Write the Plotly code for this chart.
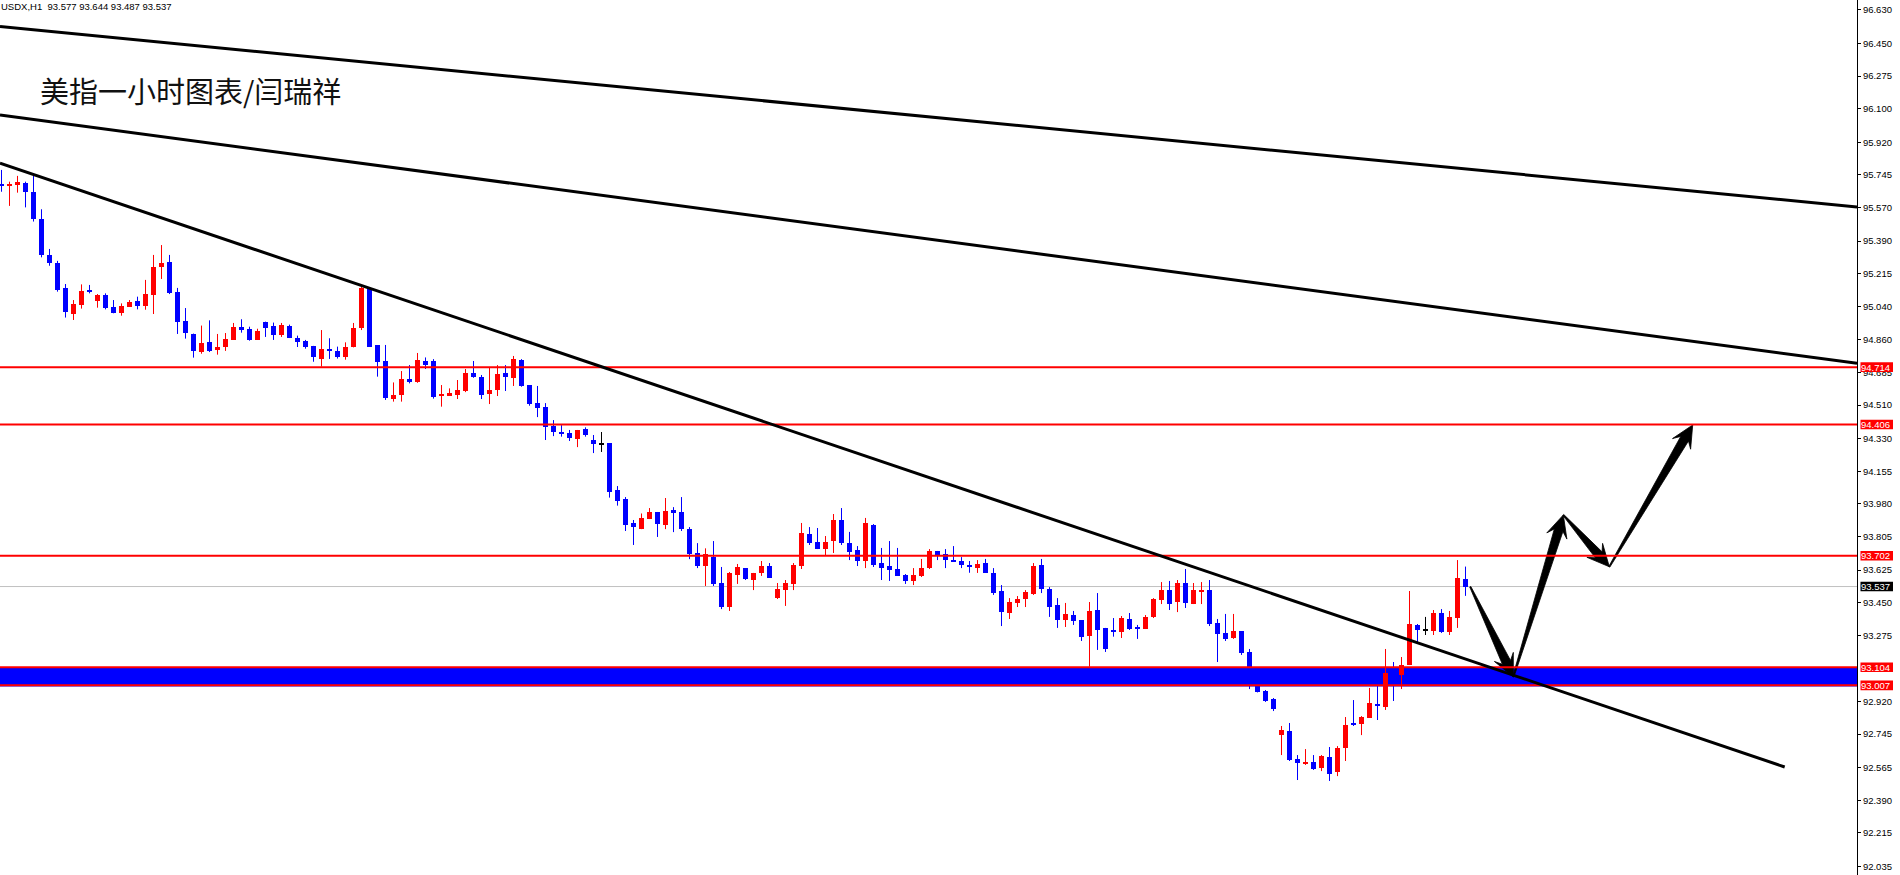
import math
import plotly.graph_objects as go

# ---------------- data ----------------
opens = [95.691, 95.686, 95.689, 95.702, 95.654, 95.509, 95.316, 95.273, 95.139, 95.001,
         95.047, 95.128, 95.071, 95.101, 95.037, 95.006, 95.039, 95.069, 95.044, 95.103,
         95.253, 95.276, 95.117, 94.962, 94.894, 94.797, 94.849, 94.808, 94.824, 94.861,
         94.929, 94.917, 94.860, 94.956, 94.935, 94.886, 94.935, 94.870, 94.853, 94.828,
         94.760, 94.806, 94.801, 94.770, 94.824, 94.922, 95.131, 94.831, 94.747, 94.545,
         94.566, 94.650, 94.634, 94.747, 94.747, 94.561, 94.561, 94.564, 94.586, 94.682,
         94.661, 94.571, 94.591, 94.682, 94.657, 94.752, 94.618, 94.521, 94.500, 94.396,
         94.368, 94.360, 94.330, 94.380, 94.323, 94.300, 94.307, 94.055, 94.006, 93.878,
         93.845, 93.899, 93.937, 93.867, 93.947, 93.937, 93.845, 93.717, 93.647, 93.697,
         93.556, 93.427, 93.599, 93.636, 93.574, 93.610, 93.647, 93.475, 93.518, 93.551,
         93.647, 93.819, 93.776, 93.738, 93.781, 93.894, 93.771, 93.733, 93.674, 93.867,
         93.663, 93.647, 93.631, 93.599, 93.567, 93.594, 93.636, 93.728, 93.712, 93.679,
         93.674, 93.653, 93.636, 93.663, 93.610, 93.513, 93.395, 93.449, 93.470, 93.495,
         93.653, 93.524, 93.438, 93.357, 93.384, 93.357, 93.272, 93.411, 93.315, 93.304,
         93.293, 93.363, 93.315, 93.309, 93.374, 93.465, 93.518, 93.454, 93.556, 93.443,
         93.509, 93.518, 93.341, 93.288, 93.261, 93.298, 93.186, 93.020, 92.977, 92.934,
         92.740, 92.762, 92.612, 92.585, 92.596, 92.563, 92.622, 92.542, 92.671, 92.805,
         92.800, 92.832, 92.907, 92.891, 93.053, 93.062, 93.116, 93.331, 93.304, 93.298,
         93.395, 93.293, 93.368, 93.577]
highs = [95.772, 95.709, 95.740, 95.709, 95.754, 95.561, 95.348, 95.284, 95.160, 95.074,
         95.158, 95.155, 95.106, 95.110, 95.074, 95.056, 95.074, 95.092, 95.182, 95.316,
         95.369, 95.316, 95.139, 95.031, 94.894, 94.937, 94.965, 94.892, 94.897, 94.951,
         94.971, 94.931, 94.920, 94.958, 94.953, 94.951, 94.942, 94.883, 94.860, 94.828,
         94.913, 94.869, 94.824, 94.847, 94.951, 95.146, 95.142, 94.831, 94.833, 94.632,
         94.693, 94.725, 94.790, 94.766, 94.757, 94.618, 94.600, 94.645, 94.704, 94.747,
         94.672, 94.715, 94.725, 94.725, 94.774, 94.757, 94.618, 94.613, 94.521, 94.430,
         94.403, 94.377, 94.377, 94.391, 94.350, 94.366, 94.307, 94.076, 94.017, 93.894,
         93.929, 93.958, 93.937, 94.012, 93.963, 94.017, 93.856, 93.770, 93.742, 93.781,
         93.642, 93.615, 93.658, 93.636, 93.610, 93.674, 93.663, 93.556, 93.572, 93.663,
         93.878, 93.856, 93.851, 93.808, 93.926, 93.958, 93.830, 93.754, 93.905, 93.872,
         93.744, 93.781, 93.744, 93.604, 93.636, 93.685, 93.738, 93.728, 93.738, 93.754,
         93.695, 93.674, 93.679, 93.685, 93.636, 93.545, 93.475, 93.486, 93.518, 93.663,
         93.685, 93.534, 93.475, 93.449, 93.406, 93.357, 93.454, 93.502, 93.315, 93.368,
         93.379, 93.395, 93.331, 93.384, 93.475, 93.561, 93.567, 93.572, 93.631, 93.556,
         93.561, 93.572, 93.363, 93.390, 93.390, 93.298, 93.202, 93.050, 92.982, 92.939,
         92.789, 92.805, 92.633, 92.665, 92.633, 92.633, 92.676, 92.681, 92.837, 92.928,
         92.842, 92.993, 93.009, 93.202, 93.132, 93.159, 93.513, 93.336, 93.374, 93.411,
         93.416, 93.406, 93.679, 93.644]
lows = [95.655, 95.579, 95.650, 95.571, 95.495, 95.303, 95.258, 95.119, 94.980, 94.967,
        95.028, 95.110, 95.033, 95.024, 95.003, 94.990, 95.039, 95.024, 95.022, 94.999,
        95.187, 95.106, 94.892, 94.867, 94.765, 94.786, 94.795, 94.781, 94.801, 94.860,
        94.899, 94.856, 94.860, 94.876, 94.860, 94.876, 94.870, 94.822, 94.813, 94.743,
        94.717, 94.758, 94.760, 94.754, 94.820, 94.913, 94.824, 94.663, 94.538, 94.529,
        94.529, 94.627, 94.630, 94.704, 94.545, 94.502, 94.561, 94.543, 94.580, 94.657,
        94.543, 94.516, 94.559, 94.586, 94.613, 94.609, 94.507, 94.446, 94.323, 94.344,
        94.341, 94.318, 94.285, 94.341, 94.253, 94.259, 94.014, 93.971, 93.835, 93.760,
        93.845, 93.899, 93.803, 93.845, 93.829, 93.835, 93.684, 93.636, 93.540, 93.540,
        93.416, 93.406, 93.551, 93.572, 93.518, 93.594, 93.583, 93.470, 93.433, 93.518,
        93.631, 93.760, 93.738, 93.701, 93.717, 93.760, 93.679, 93.647, 93.636, 93.642,
        93.572, 93.567, 93.594, 93.551, 93.545, 93.588, 93.631, 93.679, 93.636, 93.669,
        93.636, 93.611, 93.610, 93.610, 93.492, 93.325, 93.363, 93.427, 93.427, 93.492,
        93.502, 93.374, 93.315, 93.320, 93.331, 93.245, 93.107, 93.197, 93.186, 93.268,
        93.261, 93.304, 93.256, 93.309, 93.368, 93.443, 93.411, 93.400, 93.422, 93.443,
        93.443, 93.325, 93.132, 93.245, 93.256, 93.170, 92.987, 92.969, 92.918, 92.869,
        92.633, 92.601, 92.499, 92.580, 92.553, 92.547, 92.494, 92.520, 92.601, 92.789,
        92.740, 92.832, 92.821, 92.875, 92.923, 92.987, 93.116, 93.229, 93.277, 93.277,
        93.288, 93.277, 93.315, 93.487]
closes = [95.686, 95.693, 95.707, 95.655, 95.509, 95.316, 95.275, 95.130, 95.010, 95.053,
          95.123, 95.119, 95.101, 95.033, 95.005, 95.042, 95.064, 95.044, 95.106, 95.251,
          95.273, 95.114, 94.956, 94.897, 94.802, 94.844, 94.801, 94.822, 94.865, 94.929,
          94.913, 94.860, 94.908, 94.924, 94.886, 94.940, 94.872, 94.849, 94.822, 94.767,
          94.811, 94.802, 94.770, 94.820, 94.924, 95.139, 94.824, 94.743, 94.547, 94.564,
          94.648, 94.634, 94.752, 94.727, 94.554, 94.570, 94.575, 94.591, 94.682, 94.661,
          94.566, 94.591, 94.677, 94.661, 94.757, 94.614, 94.516, 94.495, 94.394, 94.368,
          94.360, 94.334, 94.377, 94.350, 94.301, 94.300, 94.044, 93.996, 93.867, 93.858,
          93.903, 93.937, 93.872, 93.942, 93.931, 93.845, 93.711, 93.647, 93.712, 93.551,
          93.425, 93.610, 93.642, 93.577, 93.610, 93.647, 93.583, 93.524, 93.556, 93.653,
          93.824, 93.772, 93.738, 93.776, 93.894, 93.771, 93.722, 93.674, 93.878, 93.653,
          93.636, 93.626, 93.594, 93.567, 93.599, 93.636, 93.728, 93.706, 93.679, 93.674,
          93.653, 93.642, 93.658, 93.610, 93.502, 93.400, 93.454, 93.470, 93.508, 93.647,
          93.524, 93.427, 93.357, 93.390, 93.352, 93.266, 93.406, 93.304, 93.202, 93.298,
          93.368, 93.309, 93.311, 93.374, 93.470, 93.518, 93.443, 93.556, 93.449, 93.518,
          93.513, 93.336, 93.282, 93.256, 93.298, 93.180, 93.045, 92.971, 92.923, 92.880,
          92.767, 92.606, 92.590, 92.596, 92.558, 92.628, 92.531, 92.671, 92.794, 92.794,
          92.837, 92.912, 92.901, 93.073, 93.018, 93.116, 93.336, 93.304, 93.304, 93.395,
          93.293, 93.374, 93.583, 93.537]

tick_labels = ["96.630", "96.450", "96.275", "96.100", "95.920", "95.745", "95.570",
               "95.390", "95.215", "95.040", "94.860", "94.685", "94.510", "94.330",
               "94.155", "93.980", "93.805", "93.625", "93.450", "93.275", "92.920",
               "92.745", "92.565", "92.390", "92.215", "92.035"]

header_text = "USDX,H1  93.577 93.644 93.487 93.537"
title_text = "美指一小时图表/闫瑞祥"

red_levels = [94.714, 94.406, 93.702, 93.104, 93.007]
bid_price = 93.537
zone_low, zone_high = 93.007, 93.104

# trend lines: (bar index, price) pairs
trend_lines = [
    [(-0.1875, 96.541), (231.94, 95.573)],
    [(-0.1875, 96.067), (231.94, 94.735)],
    [(-0.1875, 95.808), (222.9, 92.569)],
]
# projected path arrows: waypoints (bar index, price)
arrow_path = [(183.6, 93.536), (188.98, 93.053), (195.23, 93.921),
              (200.98, 93.643), (211.4, 94.404)]

# ---------------- layout geometry ----------------
W, H = 1900, 875
PLOT_W = 1857
SPACING = 8.0
x_range = [-1.5 / SPACING, (PLOT_W - 1.5) / SPACING]
y_range = [91.9895, 96.6836]
kx = SPACING
ky = H / (y_range[1] - y_range[0])

def to_px(i, p):
    return (i - x_range[0]) * kx, (y_range[1] - p) * ky

def to_data(px, py):
    return x_range[0] + px / kx, y_range[1] - py / ky

RED = "#ff0000"
BLUE = "#0000ff"
BLACK = "#000000"
min_body = 1.0 / ky

fig = go.Figure()

groups = {RED: ([], [], []), BLUE: ([], [], []), BLACK: ([], [], [])}
wicks = {RED: ([], []), BLUE: ([], []), BLACK: ([], [])}
for i, (o, h, l, c) in enumerate(zip(opens, highs, lows, closes)):
    col = RED if c > o else (BLUE if c < o else BLACK)
    lo_b, hi_b = min(o, c), max(o, c)
    if hi_b - lo_b < min_body:
        mid = (hi_b + lo_b) / 2
        lo_b, hi_b = mid - min_body / 2, mid + min_body / 2
    xs, bases, hs = groups[col]
    xs.append(i); bases.append(lo_b); hs.append(hi_b - lo_b)
    wx, wy = wicks[col]
    wx += [i, i, None]; wy += [l, h, None]

for col in (RED, BLUE, BLACK):
    wx, wy = wicks[col]
    if wx:
        fig.add_trace(go.Scatter(x=wx, y=wy, mode="lines",
                                 line=dict(color=col, width=1),
                                 hoverinfo="skip", showlegend=False))
for col in (RED, BLUE, BLACK):
    xs, bases, hs = groups[col]
    if xs:
        fig.add_trace(go.Bar(x=xs, y=hs, base=bases, width=5.0 / SPACING,
                             marker=dict(color=col, line=dict(width=0)),
                             hoverinfo="skip", showlegend=False))

# arrows as filled wedge polygons
def arrow_polygon(s, t, head_len=22.0, join=16.0, head_hw=10.5, shaft_hw=4.5, tail_hw=0.6):
    sx, sy = to_px(*s)
    tx, ty = to_px(*t)
    dx, dy = tx - sx, ty - sy
    L = math.hypot(dx, dy)
    ux, uy = dx / L, dy / L
    nx, ny = -uy, ux
    jx, jy = tx - ux * join, ty - uy * join
    wx_, wy_ = tx - ux * head_len, ty - uy * head_len
    pts = [
        (sx + nx * tail_hw, sy + ny * tail_hw),
        (jx + nx * shaft_hw, jy + ny * shaft_hw),
        (wx_ + nx * head_hw, wy_ + ny * head_hw),
        (tx, ty),
        (wx_ - nx * head_hw, wy_ - ny * head_hw),
        (jx - nx * shaft_hw, jy - ny * shaft_hw),
        (sx - nx * tail_hw, sy - ny * tail_hw),
    ]
    pts.append(pts[0])
    d = [to_data(px, py) for px, py in pts]
    return [a for a, _ in d], [b for _, b in d]

for k in range(len(arrow_path) - 1):
    ax_, ay_ = arrow_polygon(arrow_path[k], arrow_path[k + 1])
    fig.add_trace(go.Scatter(x=ax_, y=ay_, mode="lines", fill="toself",
                             fillcolor=BLACK, line=dict(color=BLACK, width=0.8),
                             hoverinfo="skip", showlegend=False))

shapes = []
# bid line (behind candles)
shapes.append(dict(type="line", xref="paper", yref="y", x0=0, x1=1, y0=bid_price, y1=bid_price,
                   line=dict(color="#c0c0c0", width=1), layer="below"))
# support zone (behind candles)
shapes.append(dict(type="rect", xref="paper", yref="y", x0=0, x1=1,
                   y0=zone_low - 0.006, y1=zone_high,
                   fillcolor=BLUE, line=dict(width=0), layer="below"))
for lv in red_levels:
    shapes.append(dict(type="line", xref="paper", yref="y", x0=0, x1=1, y0=lv, y1=lv,
                       line=dict(color=RED, width=2), layer="above"))
for (a, b) in trend_lines:
    shapes.append(dict(type="line", xref="x", yref="y", x0=a[0], y0=a[1], x1=b[0], y1=b[1],
                       line=dict(color=BLACK, width=3), layer="above"))

# price tags on the axis
annotations = []
box_h = 4.8 / ky
tag_x0 = 1860.5 / PLOT_W
tag_x1 = 1893.0 / PLOT_W
for lv, col in [(p, RED) for p in red_levels] + [(bid_price, BLACK)]:
    shapes.append(dict(type="rect", xref="paper", yref="y", x0=tag_x0, x1=tag_x1,
                       y0=lv - box_h, y1=lv + box_h, fillcolor=col, line=dict(width=0),
                       layer="above"))
    annotations.append(dict(xref="paper", yref="y", x=1860.0 / PLOT_W, y=lv,
                            text=f"{lv:.3f}", showarrow=False, xanchor="left", yanchor="middle",
                            font=dict(family="Liberation Sans, Arial, sans-serif", size=9.5, color="#ffffff"),
                            borderpad=0))

annotations.append(dict(xref="paper", yref="paper", x=0, y=1 - 6 / H,
                        text=header_text.replace("  ", " \u00a0"), showarrow=False,
                        xanchor="left", yanchor="middle", xshift=-1,
                        font=dict(family="Liberation Sans, Arial, sans-serif", size=9.5, color="#000000")))
annotations.append(dict(xref="paper", yref="paper", x=38 / PLOT_W, y=1 - 89.5 / H,
                        text=title_text, showarrow=False, xanchor="left", yanchor="middle",
                        font=dict(family="Noto Sans CJK SC, sans-serif", size=29, color="#111111")))

fig.update_layout(
    width=W, height=H,
    margin=dict(l=0, r=W - PLOT_W, t=0, b=0),
    paper_bgcolor="#ffffff", plot_bgcolor="#ffffff",
    barmode="overlay", bargap=0,
    showlegend=False,
    shapes=shapes, annotations=annotations,
    xaxis=dict(range=x_range, visible=False, fixedrange=True, showgrid=False, zeroline=False),
    yaxis=dict(range=y_range, side="right", showgrid=False, zeroline=False,
               tickmode="array", tickvals=[float(t) for t in tick_labels], ticktext=tick_labels,
               ticks="outside", ticklen=3, tickcolor="#000000", tickwidth=1,
               showline=True, linecolor="#000000", linewidth=1,
               tickfont=dict(family="Liberation Sans, Arial, sans-serif", size=9.5, color="#000000"),
               fixedrange=True),
)

fig.write_html(
    "out.html",
    config={"displayModeBar": False},
    post_script="document.body.style.margin='0';document.body.style.overflow='hidden';",
)
